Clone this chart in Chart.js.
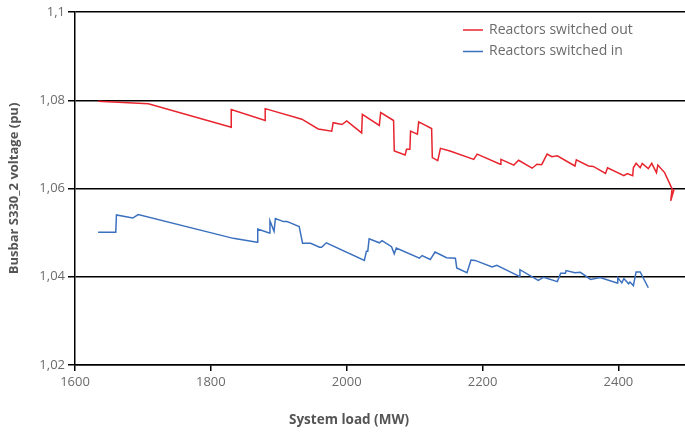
<!DOCTYPE html>
<html>
<head>
<meta charset="utf-8">
<script src="https://cdn.jsdelivr.net/npm/chart.js@4/dist/chart.umd.min.js"></script>
<style>
html,body{margin:0;padding:0;background:#fff;overflow:hidden;}
#wrap{width:685px;height:432px;position:relative;}
</style>
</head>
<body>
<div id="wrap"><canvas id="c"></canvas></div>
<script>
const seriesNames = ['Reactors switched out', 'Reactors switched in'];
const seriesColors = ['#e8242e', '#3b70bf'];

const loadOut = [1634,1708,1830,1830,1880,1880,1934,1958,1978,1980,1993,2000,2022,2023,2048,2050,2069,2070,2086,2088,2093,2094,2104,2106,2125,2126,2134,2138,2152,2187,2192,2226,2227,2246,2253,2273,2280,2287,2295,2302,2310,2336,2338,2356,2363,2381,2384,2408,2413,2421,2422,2426,2432,2435,2444,2449,2456,2458,2468,2479,2477,2482];
const voltOut = [1.0798,1.0792,1.0739,1.0779,1.0754,1.0781,1.0757,1.0735,1.0730,1.0749,1.0745,1.0753,1.0726,1.0768,1.0743,1.0772,1.0754,1.0685,1.0676,1.0689,1.0689,1.0730,1.0723,1.0751,1.0736,1.0670,1.0663,1.0691,1.0685,1.0666,1.0678,1.0655,1.0666,1.0653,1.0664,1.0646,1.0655,1.0654,1.0678,1.0672,1.0674,1.0651,1.0665,1.0651,1.0650,1.0634,1.0647,1.0629,1.0634,1.0629,1.0647,1.0657,1.0647,1.0657,1.0645,1.0657,1.0636,1.0653,1.0636,1.0599,1.0572,1.0599];

const loadIn = [1634,1660,1661,1685,1693,1833,1868,1869,1886,1887,1893,1895,1907,1912,1917,1930,1935,1947,1960,1963,1970,2026,2029,2031,2033,2048,2052,2066,2070,2073,2107,2111,2123,2130,2147,2160,2162,2177,2183,2189,2214,2221,2254,2255,2282,2290,2310,2315,2322,2323,2336,2344,2359,2373,2398,2399,2405,2408,2415,2417,2422,2426,2432,2444];
const voltIn = [1.0501,1.0501,1.0540,1.0533,1.0541,1.0487,1.0478,1.0508,1.0499,1.0527,1.0503,1.0532,1.0525,1.0525,1.0522,1.0514,1.0476,1.0476,1.0467,1.0467,1.0477,1.0437,1.0458,1.0458,1.0486,1.0477,1.0482,1.0468,1.0452,1.0465,1.0442,1.0448,1.0439,1.0456,1.0443,1.0442,1.0420,1.0409,1.0438,1.0437,1.0422,1.0426,1.0401,1.0416,1.0392,1.0399,1.0389,1.0408,1.0408,1.0414,1.0409,1.0410,1.0394,1.0398,1.0386,1.0398,1.0386,1.0396,1.0384,1.0388,1.0380,1.0411,1.0411,1.0375];

const xTicks = [1600, 1800, 2000, 2200, 2400];
const xTickLabels = ['1600', '1800', '2000', '2200', '2400'];
const yTicks = [1.02, 1.04, 1.06, 1.08, 1.1];
const yTickLabels = ['1,02', '1,04', '1,06', '1,08', '1,1'];
const xTitle = 'System load (MW)';
const yTitle = 'Busbar S330_2 voltage (pu)';

function pts(xs, ys){ return xs.map((x,i)=>({x:x, y:ys[i]})); }

const legendPlugin = {
  id: 'customLegend',
  afterDraw(chart){
    const ctx = chart.ctx;
    ctx.save();
    ctx.font = '14px "Open Sans", sans-serif';
    ctx.textBaseline = 'middle';
    ctx.textAlign = 'left';
    chart.data.datasets.forEach((ds, i) => {
      const y = 30 + i * 21.5;
      ctx.strokeStyle = ds.borderColor;
      ctx.lineWidth = 1.5;
      ctx.beginPath(); ctx.moveTo(463, y); ctx.lineTo(483, y); ctx.stroke();
      ctx.fillStyle = '#6b6b6b';
      ctx.fillText(ds.label, 489, y);
    });
    // x axis title (centred on the whole figure as in the original)
    ctx.font = 'bold 13.5px "Open Sans", sans-serif';
    ctx.fillStyle = '#555';
    ctx.textAlign = 'center';
    ctx.fillText(xTitle, 349, 420);
    ctx.restore();
  }
};

const tickFont = {family: '"Open Sans", sans-serif', size: 13};
const titleFont = {family: '"Open Sans", sans-serif', size: 13, weight: 'bold'};

new Chart(document.getElementById('c'), {
  type: 'line',
  data: {
    datasets: [
      {label: seriesNames[0], data: pts(loadOut, voltOut), borderColor: seriesColors[0], borderWidth: 1.5, pointRadius: 0, tension: 0, fill: false},
      {label: seriesNames[1], data: pts(loadIn, voltIn), borderColor: seriesColors[1], borderWidth: 1.5, pointRadius: 0, tension: 0, fill: false}
    ]
  },
  options: {
    responsive: true,
    maintainAspectRatio: false,
    animation: false,
    layout: {padding: {top: 12, right: 0, left: 0, bottom: 0}},
    plugins: {legend: {display: false}, tooltip: {enabled: false}},
    scales: {
      x: {
        type: 'linear', min: 1600, max: 2498,
        afterBuildTicks: s => { s.ticks = xTicks.map(v => ({value: v})); },
        afterFit: s => { s.height = 67; },
        ticks: {font: tickFont, color: '#6b6b6b', padding: 3, maxRotation: 0,
          callback: (v) => { const i = xTicks.indexOf(v); return i >= 0 ? xTickLabels[i] : ''; }},
        grid: {drawOnChartArea: false, drawTicks: true, tickLength: 6, color: '#000', lineWidth: 1.5},
        border: {display: true, color: '#000', width: 1.5},
        title: {display: false, text: xTitle}
      },
      y: {
        type: 'linear', min: 1.02, max: 1.1,
        afterBuildTicks: s => { s.ticks = yTicks.map(v => ({value: v})); },
        afterFit: s => { s.width = 75; },
        ticks: {font: tickFont, color: '#6b6b6b', padding: 3,
          callback: (v) => { const i = yTicks.findIndex(t => Math.abs(t - v) < 1e-9); return i >= 0 ? yTickLabels[i] : ''; }},
        grid: {drawOnChartArea: true, drawTicks: true, tickLength: 7, color: '#000', lineWidth: 1.5},
        border: {display: true, color: '#000', width: 1.5},
        title: {display: true, text: yTitle, font: titleFont, color: '#555', padding: {top: 6, bottom: 0}}
      }
    }
  },
  plugins: [legendPlugin]
});
</script>
</body>
</html>
